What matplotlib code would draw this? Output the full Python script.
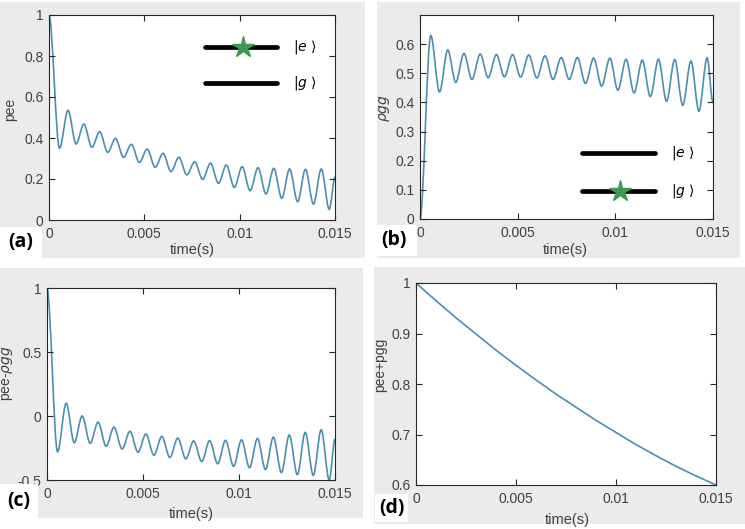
import matplotlib
matplotlib.use("Agg")
import matplotlib.pyplot as plt
from matplotlib.path import Path
from matplotlib.patches import PathPatch, Rectangle

# Turning points of the oscillation (s)
t_turn = [0.0, 0.00055, 0.00100, 0.00142, 0.00183, 0.00225, 0.00266, 0.00308,
          0.00349, 0.00391, 0.00432, 0.00474, 0.00515, 0.00557, 0.00598, 0.00640,
          0.00681, 0.00723, 0.00764, 0.00806, 0.00847, 0.00889, 0.00930, 0.00972,
          0.01013, 0.01055, 0.01096, 0.01138, 0.01179, 0.01221, 0.01262, 0.01304,
          0.01345, 0.01387, 0.01428, 0.01470, 0.01500]

# panel (a): pee
pee_turn = [1.0, 0.35, 0.535, 0.371, 0.468, 0.355, 0.431, 0.33, 0.398, 0.306,
            0.369, 0.281, 0.346, 0.257, 0.325, 0.236, 0.306, 0.22, 0.284, 0.198,
            0.277, 0.179, 0.268, 0.159, 0.26, 0.143, 0.255, 0.127, 0.252, 0.106,
            0.249, 0.089, 0.247, 0.078, 0.249, 0.052, 0.21]

# panel (b): pgg
pgg_turn = [0.0, 0.63, 0.436, 0.58, 0.469, 0.568, 0.479, 0.566, 0.485, 0.564,
            0.488, 0.564, 0.487, 0.563, 0.484, 0.56, 0.479, 0.554, 0.479, 0.554,
            0.465, 0.552, 0.456, 0.552, 0.442, 0.548, 0.433, 0.545, 0.42, 0.548,
            0.404, 0.547, 0.39, 0.542, 0.37, 0.553, 0.399]

# panel (c): pee - pgg
diff_turn = [1.0, -0.28, 0.10, -0.209, 0.0, -0.213, -0.048, -0.236, -0.087, -0.258,
             -0.119, -0.283, -0.141, -0.306, -0.159, -0.324, -0.173, -0.334, -0.195, -0.356,
             -0.193, -0.373, -0.19, -0.393, -0.186, -0.405, -0.176, -0.418, -0.165, -0.442,
             -0.149, -0.458, -0.128, -0.464, -0.108, -0.5, -0.18]

# panel (d): pee + pgg
t_sum = [0.0, 0.001, 0.002, 0.003, 0.004, 0.005, 0.006, 0.007,
         0.008, 0.009, 0.010, 0.011, 0.012, 0.013, 0.014, 0.015]
sum_vals = [1.0, 0.965, 0.931, 0.899, 0.867, 0.837, 0.808, 0.780,
            0.754, 0.728, 0.704, 0.680, 0.658, 0.637, 0.618, 0.600]

time_ticks = [0, 0.005, 0.01, 0.015]
time_labels = ["0", "0.005", "0.01", "0.015"]

W, H = 745, 529
LINE = "#4a8fb0"
GREY_BG = "#ebebeb"
TXT = "#404040"

plt.rcParams["font.family"] = ["Liberation Sans", "DejaVu Sans"]


def fig_box(x0, y0, x1, y1):
    # pixel box (top-left origin) -> figure fraction [l, b, w, h]
    return [x0 / W, 1 - y1 / H, (x1 - x0) / W, (y1 - y0) / H]


def wave_path(t, v):
    # smooth curve through the turning points, flat tangent at each one
    verts = [(t[0], v[0])]
    codes = [Path.MOVETO]
    for i in range(len(t) - 1):
        h = (t[i + 1] - t[i]) / 3
        verts += [(t[i] + h, v[i]), (t[i + 1] - h, v[i + 1]), (t[i + 1], v[i + 1])]
        codes += [Path.CURVE4] * 3
    return Path(verts, codes)


def style(ax, ylim, yticks, ylabels, ylabel, ylab_pos, xlab_pos):
    ax.set_xlim(0, 0.015)
    ax.set_ylim(*ylim)
    ax.set_xticks(time_ticks, time_labels)
    ax.set_yticks(yticks, ylabels)
    ax.tick_params(direction="in", top=True, right=True, length=4, width=0.8,
                   color="#262626", labelcolor=TXT, labelsize=10)
    ax.tick_params(axis="x", pad=5)
    ax.tick_params(axis="y", pad=4)
    for s in ax.spines.values():
        s.set_color("#262626")
        s.set_linewidth(0.8)
    ax.set_xlabel("time(s)", fontsize=10.5, color=TXT)
    ax.set_ylabel(ylabel, fontsize=10, color=TXT)
    ax.xaxis.set_label_coords(*xlab_pos)
    ax.yaxis.set_label_coords(*ylab_pos)


def levels(ax, x0, x1, ye, yg, star_x, star_y):
    for y in (ye, yg):
        ax.plot([x0, x1], [y, y], color="black", lw=3.4, solid_capstyle="round",
                transform=ax.transAxes)
    ax.plot([star_x], [star_y], marker="*", ms=16, color="#3c9a50",
            transform=ax.transAxes, zorder=5)
    ax.text(x1 + 0.055, ye, r"$|e\ \rangle$", transform=ax.transAxes, va="center", fontsize=10)
    ax.text(x1 + 0.055, yg, r"$|g\ \rangle$", transform=ax.transAxes, va="center", fontsize=10)


fig = plt.figure(figsize=(W / 100, H / 100), dpi=100)

# grey backgrounds of the four sub-figures
for box in [(0, 2, 365, 258), (377, 2, 740, 258), (0, 268, 363, 518), (374, 267, 745, 524)]:
    l, b, w, h = fig_box(*box)
    fig.patches.append(Rectangle((l, b), w, h, transform=fig.transFigure,
                                 facecolor=GREY_BG, edgecolor="none", zorder=-2))

ax_a = fig.add_axes(fig_box(49, 15, 335, 220))
ax_b = fig.add_axes(fig_box(420, 15, 713, 219))
ax_c = fig.add_axes(fig_box(47, 288, 335, 480))
ax_d = fig.add_axes(fig_box(416, 283, 716, 485))

ax_a.add_patch(PathPatch(wave_path(t_turn, pee_turn), fill=False, edgecolor=LINE, lw=1.2))
ax_b.add_patch(PathPatch(wave_path(t_turn, pgg_turn), fill=False, edgecolor=LINE, lw=1.2))
ax_c.add_patch(PathPatch(wave_path(t_turn, diff_turn), fill=False, edgecolor=LINE, lw=1.2))
ax_d.plot(t_sum, sum_vals, color=LINE, lw=1.2)

style(ax_a, (0, 1), [0, 0.2, 0.4, 0.6, 0.8, 1], ["0", "0.2", "0.4", "0.6", "0.8", "1"],
      "pee", (-0.112, 0.537), (0.5, -0.112))
style(ax_b, (0, 0.7), [0, 0.1, 0.2, 0.3, 0.4, 0.5, 0.6],
      ["0", "0.1", "0.2", "0.3", "0.4", "0.5", "0.6"],
      r"$\rho g g$", (-0.096, 0.544), (0.495, -0.118))
style(ax_c, (-0.5, 1), [-0.5, 0, 0.5, 1], ["-0.5", "0", "0.5", "1"],
      r"pee-$\rho g g$", (-0.111, 0.557), (0.5, -0.14))
style(ax_d, (0.6, 1), [0.6, 0.7, 0.8, 0.9, 1], ["0.6", "0.7", "0.8", "0.9", "1"],
      "pee+pgg", (-0.097, 0.594), (0.503, -0.139))

levels(ax_a, 0.545, 0.797, 0.844, 0.668, 0.678, 0.844)
levels(ax_b, 0.553, 0.802, 0.3235, 0.137, 0.683, 0.137)

# sub-figure tags on white boxes
for tag, box in [("(a)", (0, 227, 42, 258)), ("(b)", (370, 225, 417, 256)),
                 ("(c)", (0, 484, 38, 518)), ("(d)", (375, 494, 408, 522))]:
    l, b, w, h = fig_box(*box)
    fig.patches.append(Rectangle((l, b), w, h, transform=fig.transFigure,
                                 facecolor="white", edgecolor="none", zorder=5))
    fig.text(l + w / 2, b + h / 2, tag, fontsize=14, fontweight="bold",
             family=["Open Sans", "DejaVu Sans"], ha="center", va="center", zorder=6)

fig.savefig("out.png", dpi=100)
